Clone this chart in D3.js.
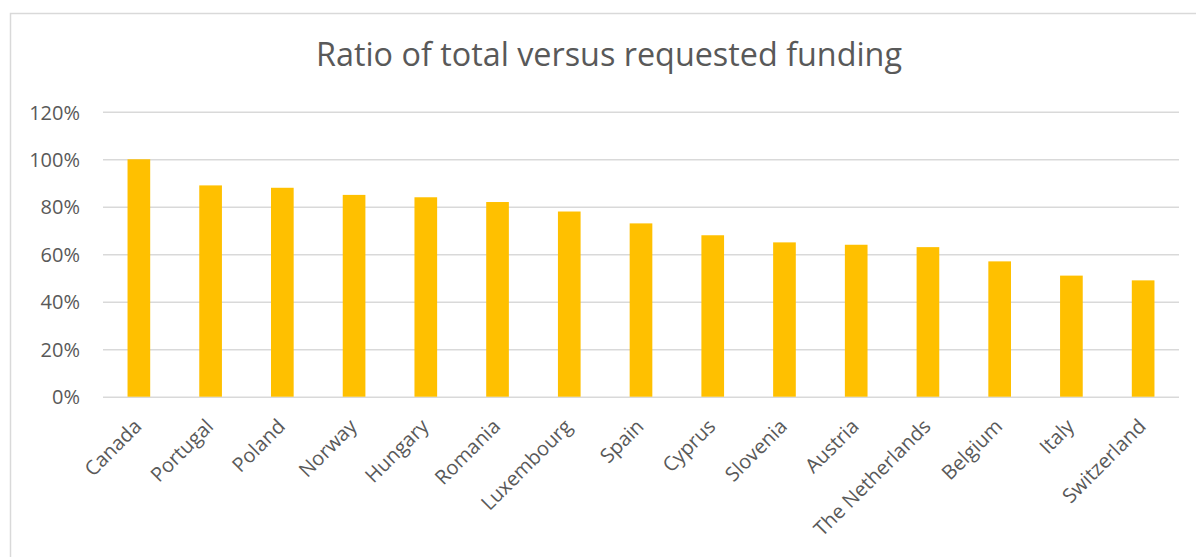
<!DOCTYPE html>
<html>
<head>
<meta charset="utf-8">
<script src="https://cdn.jsdelivr.net/npm/d3@7/dist/d3.min.js"></script>
<style>
  html, body { margin: 0; padding: 0; background: #fff; }
  svg { display: block; }
  text { font-family: "Open Sans", sans-serif; fill: #595959; }
</style>
</head>
<body>
<svg id="chart" width="1196" height="557"></svg>
<script>
const title = "Ratio of total versus requested funding";
const countries = ["Canada", "Portugal", "Poland", "Norway", "Hungary", "Romania", "Luxembourg", "Spain", "Cyprus", "Slovenia", "Austria", "The Netherlands", "Belgium", "Italy", "Switzerland"];
const ratios = [1.00, 0.89, 0.88, 0.85, 0.84, 0.82, 0.78, 0.73, 0.68, 0.65, 0.64, 0.63, 0.57, 0.51, 0.49];
const yTicks = [0, 0.2, 0.4, 0.6, 0.8, 1.0, 1.2];

(function () {
const svg = d3.select("#chart");

// chart area border
svg.append("rect")
  .attr("x", 10.5).attr("y", 13.5)
  .attr("width", 1200).attr("height", 600)
  .attr("fill", "#fff").attr("stroke", "#d9d9d9").attr("stroke-width", 1.5);

const pLeft = 103, pRight = 1179, pTop = 111.8, pBottom = 396.7;

const x = d3.scaleBand().domain(countries).range([pLeft, pRight]).paddingInner(0.684).paddingOuter(0.342);
const y = d3.scaleLinear().domain([0, 1.2]).range([pBottom, pTop]);

// gridlines + y labels
const yAxis = d3.axisLeft(y).tickValues(yTicks).tickFormat(d3.format(".0%")).tickSize(-(pRight - pLeft)).tickPadding(23);
const gy = svg.append("g").attr("transform", `translate(${pLeft},0)`).call(yAxis);
gy.select(".domain").remove();
gy.selectAll(".tick line").attr("stroke", "#d9d9d9").attr("stroke-width", 1.5);
gy.selectAll(".tick text").attr("font-size", "20px").attr("fill", "#595959")
  .style("font-family", "'Open Sans', sans-serif").attr("dy", "0.36em");

// bars
svg.append("g").selectAll("rect").data(countries).join("rect")
  .attr("x", d => x(d))
  .attr("width", x.bandwidth())
  .attr("y", (d, i) => y(ratios[i]))
  .attr("height", (d, i) => y(0) - y(ratios[i]))
  .attr("fill", "#FFC000");

// x labels
const xAxis = d3.axisBottom(x).tickSize(0).tickPadding(0);
const gx = svg.append("g").attr("transform", `translate(0,${pBottom})`).call(xAxis);
gx.select(".domain").remove();
gx.selectAll(".tick text")
  .attr("font-size", "20px").attr("fill", "#595959")
  .style("font-family", "'Open Sans', sans-serif")
  .attr("text-anchor", "end")
  .attr("dy", null).attr("y", 0)
  .attr("transform", "translate(4,31) rotate(-45)");

// title
const t = svg.append("text")
  .attr("x", 609).attr("y", 66)
  .attr("text-anchor", "middle")
  .attr("font-size", "30px")
  .text(title);
const tw = t.node().getComputedTextLength();
t.attr("font-size", (30 * 586 / tw).toFixed(2) + "px");
})();
</script>
</body>
</html>
